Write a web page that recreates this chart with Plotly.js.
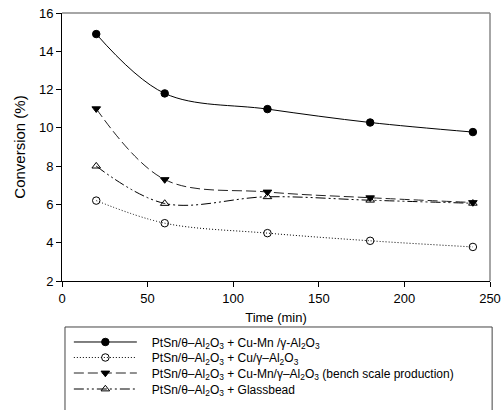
<!DOCTYPE html>
<html><head><meta charset="utf-8">
<script src="https://cdn.plot.ly/plotly-3.0.1.min.js"></script>
<style>body{margin:0;background:#fff}#chart{width:504px;height:410px}</style>
</head><body><div id="chart"></div>
<script>
var time = [20, 60, 120, 180, 240];
var cuMn = [14.9, 11.8, 10.98, 10.28, 9.78];
var cu = [6.2, 5.02, 4.5, 4.1, 3.78];
var cuMnBench = [11.0, 7.3, 6.65, 6.35, 6.1];
var glassbead = [8.0, 6.05, 6.4, 6.22, 6.06];
var names = [
  'PtSn/θ–Al<sub>2</sub>O<sub>3</sub> + Cu-Mn /γ-Al<sub>2</sub>O<sub>3</sub>',
  'PtSn/θ–Al<sub>2</sub>O<sub>3</sub> + Cu/γ–Al<sub>2</sub>O<sub>3</sub>',
  'PtSn/θ–Al<sub>2</sub>O<sub>3</sub> + Cu-Mn/γ–Al<sub>2</sub>O<sub>3</sub> (bench scale production)',
  'PtSn/θ–Al<sub>2</sub>O<sub>3</sub> + Glassbead'
];
var xTicks = [0, 50, 100, 150, 200, 250];
var yTicks = [2, 4, 6, 8, 10, 12, 14, 16];

function tr(y, name, dash, symbol, leg, lineColor) {
  return {
    x: time, y: y, name: '\u00a0\u00a0\u00a0' + name, type: 'scatter', mode: 'lines+markers',
    legend: leg,
    line: {color: lineColor || '#000', width: 1, dash: dash, shape: 'spline', smoothing: 1},
    marker: {symbol: symbol, size: 7.5, color: '#000', line: {color: '#000', width: 1}}
  };
}
var data = [
  tr(cuMn, names[0], 'solid', 'circle', 'legend'),
  tr(cu, names[1], '1px,2px', 'circle-open', 'legend2'),
  tr(cuMnBench, names[2], '10px,4px', 'triangle-down', 'legend3', '#222'),
  tr(glassbead, names[3], '10px,3px,2px,3px,2px,3px', 'triangle-up-open', 'legend4')
];
var font = {family: 'Liberation Sans, Arial, sans-serif', color: '#000'};
function leg(y) {
  return {x: 0.016, y: y, xanchor: 'left', yanchor: 'middle', bgcolor: 'rgba(0,0,0,0)',
          borderwidth: 0, itemwidth: 63, font: {size: 12}};
}
var layout = {
  width: 504, height: 410,
  margin: {l: 62, r: 14, t: 13, b: 129, autoexpand: false},
  paper_bgcolor: '#fff', plot_bgcolor: '#fff',
  font: Object.assign({size: 12}, font),
  showlegend: true,
  xaxis: {
    range: [0, 250], tickvals: xTicks, ticks: 'outside', ticklen: 5, tickcolor: '#000',
    showline: true, linecolor: '#000', linewidth: 1, showgrid: false, zeroline: false,
    tickfont: {size: 13}, title: {text: 'Time (min)', font: {size: 13}, standoff: 8}
  },
  yaxis: {
    range: [2, 16], tickvals: yTicks, ticks: 'outside', ticklen: 5, tickcolor: '#000',
    showline: true, linecolor: '#000', linewidth: 1, showgrid: false, zeroline: false,
    tickfont: {size: 13}, title: {text: 'Conversion (%)', font: {size: 15}, standoff: 9}
  },
  legend: leg(-0.2276),
  legend2: leg(-0.2854),
  legend3: leg(-0.3433),
  legend4: leg(-0.403),
  shapes: [
    {type: 'line', xref: 'paper', yref: 'paper', x0: 0, x1: 1, y0: 1, y1: 1, line: {color: '#888', width: 1.5}},
    {type: 'line', xref: 'paper', yref: 'paper', x0: 1, x1: 1, y0: 0, y1: 1, line: {color: '#888', width: 1.5}},
    {type: 'rect', xref: 'paper', yref: 'paper', x0: 0.007, x1: 1.005, y0: -0.1716, y1: -0.6, line: {color: '#444', width: 1}}
  ]
};
Plotly.newPlot('chart', data, layout, {displayModeBar: false, staticPlot: true});
</script></body></html>
